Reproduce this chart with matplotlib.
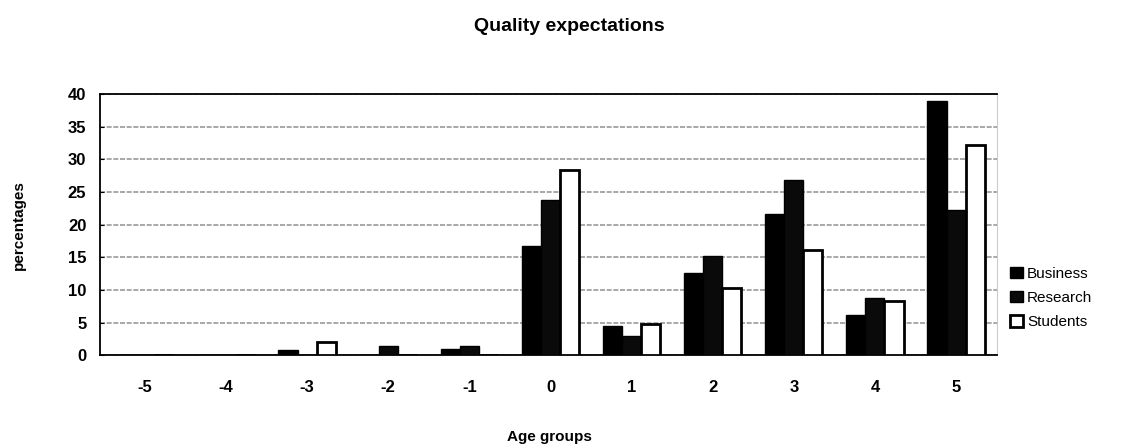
import numpy as np
import matplotlib
matplotlib.use('Agg')
import matplotlib.pyplot as plt

plt.rcParams['font.family'] = ['Liberation Sans', 'DejaVu Sans']

# Percentage of answers per age group
age_groups = [-5, -4, -3, -2, -1, 0, 1, 2, 3, 4, 5]
business = [0, 0, 0.8, 0, 1.0, 16.8, 4.5, 12.6, 21.6, 6.2, 38.9]
research = [0, 0, 0, 1.5, 1.5, 23.7, 3.0, 15.2, 26.9, 8.8, 22.3]
students = [0, 0, 2.1, 0, 0, 28.4, 4.8, 10.3, 16.1, 8.3, 32.2]

x = np.arange(len(age_groups))
w = 0.235

fig = plt.figure(figsize=(11.39, 4.47), dpi=100)
ax = fig.add_axes([0.088, 0.205, 0.787, 0.585])

ax.bar(x - w, business, w, color='black', edgecolor='black', linewidth=1, label='Business', zorder=3)
ax.bar(x, research, w, color='#0a0a0a', edgecolor='black', linewidth=1, label='Research', zorder=3)
ax.bar(x + w, students, w, color='white', edgecolor='black', linewidth=2, label='Students', zorder=3)

ax.set_ylim(0, 40)
ax.set_xlim(-0.55, len(age_groups) - 0.5)
ax.set_yticks(range(0, 41, 5))
ax.set_xticks(x)
ax.set_xticklabels([str(a) for a in age_groups])
ax.yaxis.grid(True, color='#9a9a9a', linewidth=1.2, linestyle=(0, (3, 1)), zorder=0)
ax.tick_params(axis='x', length=0, pad=18, labelsize=12)
ax.tick_params(axis='y', length=3, direction='in', pad=10, labelsize=12)
for lbl in ax.get_xticklabels() + ax.get_yticklabels():
    lbl.set_fontweight('bold')

for side in ['left', 'top', 'bottom']:
    ax.spines[side].set_color('black')
    ax.spines[side].set_linewidth(1.3)
ax.spines['right'].set_color('#cccccc')
ax.spines['right'].set_linewidth(0.8)

ax.set_ylabel('percentages', fontsize=11, fontweight='bold', labelpad=30)
fig.text(0.482, 0.022, 'Age groups', fontsize=11, fontweight='bold', ha='center', va='center')
fig.suptitle('Quality expectations', fontsize=14, fontweight='bold', y=0.96)

ax.legend(loc='center left', bbox_to_anchor=(1.0, 0.22), frameon=False,
          handlelength=0.8, handleheight=0.8, handletextpad=0.3,
          labelspacing=0.65, fontsize=11)

fig.savefig('out.png', dpi=100)
